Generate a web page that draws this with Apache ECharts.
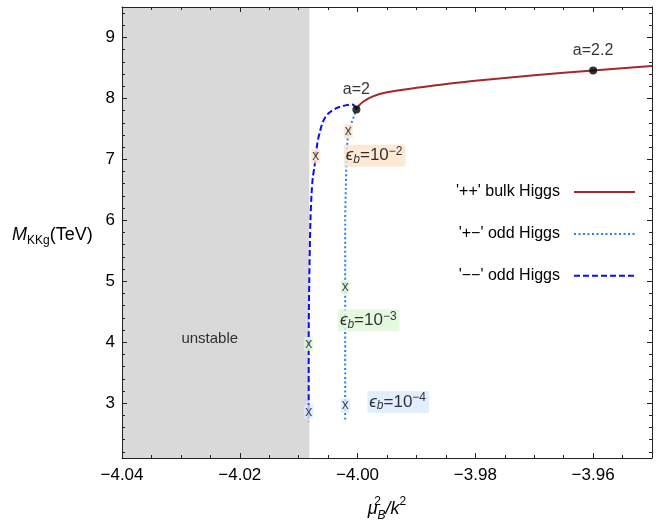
<!DOCTYPE html>
<html><head><meta charset="utf-8">
<script src="https://cdn.jsdelivr.net/npm/echarts@6/dist/echarts.min.js"></script>
<style>html,body{margin:0;padding:0;background:#fff}#c{width:666px;height:521px}</style>
</head><body><div id="c"></div>
<script>
// ---- data ----
const xTicks = [-4.04, -4.02, -4.00, -3.98, -3.96];
const yTicks = [3, 4, 5, 6, 7, 8, 9];
const seriesNames = ["'++' bulk Higgs", "'+\u2212' odd Higgs", "'\u2212\u2212' odd Higgs"];
const bulkX = [-4.0002, -3.9998, -3.9990, -3.9975, -3.9950, -3.9900, -3.9850, -3.9800, -3.9700, -3.9600, -3.9500];
const bulkY = [7.82, 7.88, 7.95, 8.03, 8.10, 8.175, 8.235, 8.29, 8.38, 8.46, 8.53];
const pmX = [-4.0002, -4.0006, -4.0012, -4.0016, -4.0018, -4.0019, -4.0020, -4.0021, -4.0021];
const pmY = [7.84, 7.71, 7.55, 7.40, 7.17, 6.89, 6.50, 6.00, 2.70];
const mmX = [-4.0002, -4.0009, -4.0019, -4.0036, -4.0051, -4.0059, -4.0064, -4.0068, -4.0071, -4.0073, -4.0076, -4.0078, -4.0080, -4.0082, -4.0083, -4.0083];
const mmY = [7.84, 7.90, 7.89, 7.84, 7.74, 7.61, 7.45, 7.28, 7.06, 6.89, 6.70, 6.45, 6.00, 5.00, 4.00, 2.70];
const markPmX = [-4.0016, -4.0021, -4.0021];
const markPmY = [7.46, 4.90, 2.96];
const markMmX = [-4.0071, -4.0083, -4.0083];
const markMmY = [7.05, 3.97, 2.86];
const aX = [-4.0002, -3.96];
const aY = [7.82, 8.46];
const aLabels = ['a=2', 'a=2.2'];
const epsExp = ['\u22122', '\u22123', '\u22124'];
const epsX = [-3.9971, -3.9981, -3.9931];
const epsY = [7.06, 4.36, 3.02];
const unstableRange = [-4.04, -4.0082];
const unstablePos = [-4.0251, 4.05];

// ---- styles / layout ----
const FONT = "'Liberation Sans', Arial, Helvetica, sans-serif";
const TXT = '#000';
const epsColors = ['#fde3c9', '#dff7d9', '#d9eafb'];
const XMIN = -4.04, XMAX = -3.95, YMIN = 2.1, YMAX = 9.5;
const G = { left: 122, right: 14, top: 7, bottom: 63 };
const GW = 666 - G.left - G.right, GH = 521 - G.top - G.bottom;
const lineCol = '#222';
const xMinor = [];
for (let k = 1; k < 18; k++) if (k % 4 !== 0) xMinor.push(+(XMIN + 0.005 * k).toFixed(4));
const yMinor = [];
for (let k = 0; k <= 36; k++) { const v = +(2.2 + 0.2 * k).toFixed(2); if (Math.abs(v - Math.round(v)) > 1e-6) yMinor.push(v); }

// frame axis (line + optional labels), or tick-only axis whose outward ticks point into the frame
function ax(kind, pos, opts) {
  const isX = kind === 'x';
  const a = {
    type: 'value', position: pos, z: 10,
    min: isX ? XMIN : YMIN, max: isX ? XMAX : YMAX,
    splitLine: { show: false }, minorTick: { show: false }, minorSplitLine: { show: false },
    axisLabel: { show: false }
  };
  if (opts.ticks) {
    // opts.far: axis placed on the opposite frame side (top->bottom, right->left)
    a.offset = opts.far ? -(isX ? GH : GW) : -opts.len;
    a.axisLine = { show: false, onZero: false };
    a.axisTick = { show: true, inside: false, length: opts.len, customValues: opts.ticks, lineStyle: { color: lineCol, width: 1 } };
  } else {
    a.axisLine = { show: true, onZero: false, lineStyle: { color: lineCol, width: 1 } };
    a.axisTick = { show: false };
    if (opts.labels) {
      a.axisLabel = {
        show: true, customValues: opts.labels, fontSize: 17, color: TXT, fontFamily: FONT, margin: isX ? 9 : 7,
        formatter: isX ? (v => v.toFixed(2).replace('-', '\u2212')) : (v => String(v))
      };
    }
  }
  return a;
}

const xAxes = [
  ax('x', 'bottom', { labels: xTicks }),
  ax('x', 'top', {}),
  ax('x', 'top', { ticks: xTicks, len: 5, far: true }),
  ax('x', 'top', { ticks: xTicks, len: 5 }),
  ax('x', 'top', { ticks: xMinor, len: 3, far: true }),
  ax('x', 'top', { ticks: xMinor, len: 3 })
];
xAxes[0].name = '{m|\u03bc}{sp0|2}{sb|B}{t|/}{k|k}{sp|2}';
xAxes[0].nameLocation = 'middle';
xAxes[0].nameGap = 38;
xAxes[0].nameTextStyle = {
  fontFamily: FONT, color: TXT,
  rich: {
    m: { fontSize: 18, fontStyle: 'italic', lineHeight: 26, fontFamily: FONT, color: TXT },
    sp0: { fontSize: 12, lineHeight: 14, verticalAlign: 'top', width: 0, fontFamily: FONT, color: TXT },
    sb: { fontSize: 12, fontStyle: 'italic', lineHeight: 14, verticalAlign: 'bottom', fontFamily: FONT, color: TXT },
    t: { fontSize: 18, fontStyle: 'italic', lineHeight: 26, fontFamily: FONT, color: TXT },
    k: { fontSize: 18, fontStyle: 'italic', lineHeight: 26, fontFamily: FONT, color: TXT },
    sp: { fontSize: 12, lineHeight: 14, verticalAlign: 'top', fontFamily: FONT, color: TXT }
  }
};
const yAxes = [
  ax('y', 'left', { labels: yTicks }),
  ax('y', 'right', {}),
  ax('y', 'right', { ticks: yTicks, len: 5, far: true }),
  ax('y', 'right', { ticks: yTicks, len: 5 }),
  ax('y', 'right', { ticks: yMinor, len: 3, far: true }),
  ax('y', 'right', { ticks: yMinor, len: 3 })
];

const zip = (xs, ys) => xs.map((x, i) => [x, ys[i]]);
const epsRich = {
  e: { fontSize: 17, fontStyle: 'italic', lineHeight: 20, fontFamily: FONT, color: TXT },
  s: { fontSize: 12, fontStyle: 'italic', lineHeight: 12, verticalAlign: 'bottom', fontFamily: FONT, color: TXT },
  t: { fontSize: 17, lineHeight: 20, fontFamily: FONT, color: TXT },
  p: { fontSize: 12, lineHeight: 12, verticalAlign: 'top', fontFamily: FONT, color: TXT }
};

const markerData = (xs, ys) => xs.map((x, i) => ({
  value: [x, ys[i]],
  label: { backgroundColor: epsColors[i] }
}));

const option = {
  animation: false,
  grid: { left: G.left, right: G.right, top: G.top, bottom: G.bottom, containLabel: false, outerBoundsMode: 'none' },
  xAxis: xAxes,
  yAxis: yAxes,
  legend: {
    data: seriesNames, orient: 'vertical', align: 'right', right: 30, top: 184, padding: 0,
    itemWidth: 61, itemHeight: 14, itemGap: 25.9,
    itemStyle: { color: 'rgba(0,0,0,0)', borderWidth: 0, opacity: 0 },
    textStyle: { fontSize: 16, fontFamily: FONT, color: TXT, padding: [0, 9, 0, 0] }
  },
  graphic: [{
    type: 'text', left: 12, top: 226, z: 20,
    style: {
      text: '{m|M}{s|KKg}{t|(TeV)}', fontFamily: FONT,
      rich: {
        m: { fontSize: 18, fontStyle: 'italic', lineHeight: 24, fontFamily: FONT, fill: TXT, color: TXT },
        s: { fontSize: 12, lineHeight: 12, verticalAlign: 'bottom', fontFamily: FONT, fill: TXT, color: TXT },
        t: { fontSize: 18, lineHeight: 24, fontFamily: FONT, fill: TXT, color: TXT }
      }
    }
  }],
  series: [
    {
      name: 'unstable region', type: 'line', data: [], z: -1, symbol: 'none',
      markArea: {
        silent: true, itemStyle: { color: '#d9d9d9' },
        data: [[{ xAxis: unstableRange[0] }, { xAxis: unstableRange[1] }]]
      }
    },
    {
      name: seriesNames[0], type: 'line', data: zip(bulkX, bulkY), symbol: 'none', smooth: 0.3, z: 3,
      color: '#a3282b', lineStyle: { color: '#a3282b', width: 2 }
    },
    {
      name: seriesNames[1], type: 'line', data: zip(pmX, pmY), symbol: 'none', smooth: 0.3, z: 4,
      color: '#1f7fff', lineStyle: { color: '#1f7fff', width: 2, type: [2, 2.5] }
    },
    {
      name: seriesNames[2], type: 'line', data: zip(mmX, mmY), symbol: 'none', smooth: 0.3, z: 4,
      color: '#0a0aff', lineStyle: { color: '#0a0aff', width: 2, type: [6, 3] }
    },
    {
      type: 'scatter', z: 6, symbolSize: 0.1, itemStyle: { color: 'rgba(0,0,0,0)' },
      data: markerData(markPmX, markPmY).concat(markerData(markMmX, markMmY)),
      label: { show: true, position: 'inside', formatter: 'x', fontSize: 14, fontFamily: FONT, color: '#222', padding: [0, 1, 2, 1], lineHeight: 12 }
    },
    {
      type: 'scatter', z: 7, symbolSize: 8, itemStyle: { color: '#000' },
      data: zip(aX, aY).map((v, i) => ({ value: v, name: aLabels[i] })),
      label: { show: true, position: 'top', distance: 8, formatter: p => p.name, fontSize: 16, fontFamily: FONT, color: TXT }
    },
    {
      type: 'scatter', z: 6, symbolSize: 0.1, itemStyle: { color: 'rgba(0,0,0,0)' },
      data: zip(epsX, epsY).map((v, i) => ({
        value: v, name: epsExp[i],
        label: { backgroundColor: epsColors[i] }
      })),
      label: {
        show: true, position: 'inside', padding: [1, 3, 1, 2],
        formatter: p => '{e|\u03f5}{s|b}{t|=10}{p|' + p.name + '}',
        rich: epsRich
      }
    },
    {
      type: 'scatter', z: 6, symbolSize: 0.1, itemStyle: { color: 'rgba(0,0,0,0)' },
      data: [{ value: unstablePos, name: 'unstable' }],
      label: { show: true, position: 'inside', formatter: p => p.name, fontSize: 15, fontFamily: FONT, color: TXT }
    }
  ]
};
const chart = echarts.init(document.getElementById('c'), null, { renderer: 'canvas' });
chart.setOption(option);
</script>
</body></html>
